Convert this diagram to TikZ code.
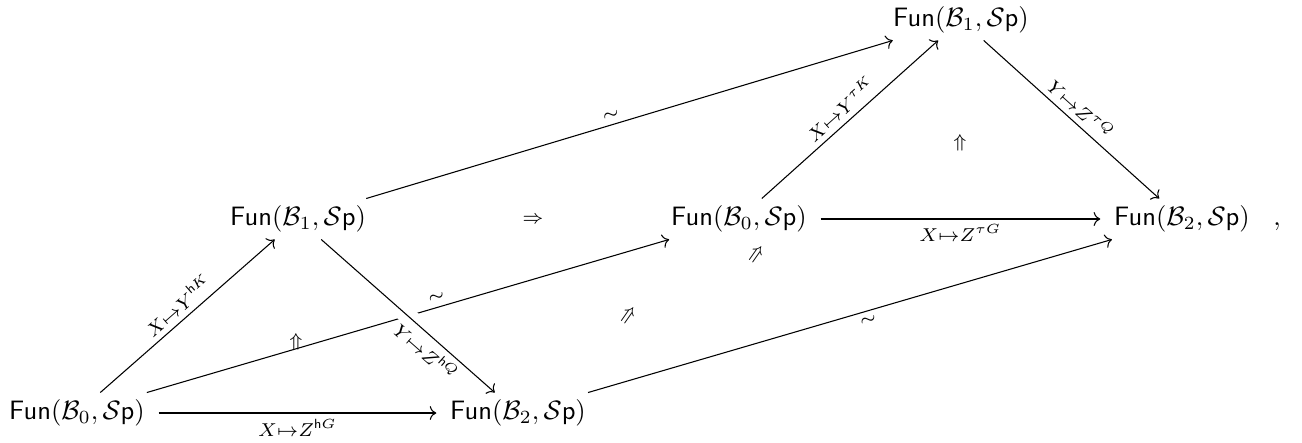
\documentclass[tikz,border=0pt]{standalone}
\usepackage{amsmath,amssymb}
\usepackage{tikz}
\usetikzlibrary{positioning,arrows.meta}

\begin{document}
\begin{tikzpicture}[
  fun/.style={inner xsep=5pt,inner ysep=2.5pt},
  arrow/.style={-{Computer Modern Rightarrow},thin},
  lbl/.style={inner sep=2pt},
  cell/.style={inner sep=0pt},
  crossing/.style={preaction={draw=white,line width=6.5pt,-}}
]
\useasboundingbox (0,0) rectangle (17.2,5.839);
% the functor categories
\node[fun] (A) at (1.017,0.383) {$\mathsf{Fun}(\mathcal{B}_0,\mathcal{S}\mathsf{p})$};
\node[fun] (B) at (6.843,0.383) {$\mathsf{Fun}(\mathcal{B}_2,\mathcal{S}\mathsf{p})$};
\node[fun] (C) at (3.937,2.946) {$\mathsf{Fun}(\mathcal{B}_1,\mathcal{S}\mathsf{p})$};
\node[fun] (D) at (9.762,2.946) {$\mathsf{Fun}(\mathcal{B}_0,\mathcal{S}\mathsf{p})$};
\node[fun] (E) at (15.614,2.946) {$\mathsf{Fun}(\mathcal{B}_2,\mathcal{S}\mathsf{p})$};
\node[fun] (F) at (12.695,5.575) {$\mathsf{Fun}(\mathcal{B}_1,\mathcal{S}\mathsf{p})$};
\node[anchor=base west,inner sep=0pt,xshift=3.5pt] (comma) at (E.base east) {$,$};
% 2-cells
\node[cell] (mid) at (7.041,2.933) {$\scriptstyle\Rightarrow$};
\node[cell] (twoL) at (3.910,1.321) {$\scriptstyle\Uparrow$};
\node[cell] (twoR) at (12.68,3.950) {$\scriptstyle\Uparrow$};
\node[cell,rotate=55] (twoD) at (10.0,2.470) {$\scriptstyle\Rightarrow$};
\node[cell,rotate=55] (twoB) at (8.309,1.664) {$\scriptstyle\Rightarrow$};
% lower triangle
\draw[arrow] (A) -- (D) node[lbl,pos=0.56,above,sloped] {$\scriptstyle\sim$};
\draw[arrow] (A) -- (C) node[lbl,midway,above,sloped] {$\scriptstyle X\mapsto Y^{\mathsf{h}K}$};
\draw[arrow] (A) -- (B) node[lbl,midway,below] {$\scriptstyle X\mapsto Z^{\mathsf{h}G}$};
\draw[arrow,crossing] (C) -- (B) node[lbl,pos=0.66,below,sloped] {$\scriptstyle Y\mapsto Z^{\mathsf{h}Q}$};
% comparison maps
\draw[arrow] (C) -- (F) node[lbl,pos=0.47,above,sloped] {$\scriptstyle\sim$};
\draw[arrow] (B) -- (E) node[lbl,pos=0.53,below,sloped] {$\scriptstyle\sim$};
% upper triangle
\draw[arrow] (D) -- (F) node[lbl,midway,above,sloped] {$\scriptstyle X\mapsto Y^{\tau K}$};
\draw[arrow] (F) -- (E) node[lbl,midway,above,sloped] {$\scriptstyle Y\mapsto Z^{\tau Q}$};
\draw[arrow] (D) -- (E) node[lbl,midway,below] {$\scriptstyle X\mapsto Z^{\tau G}$};
\end{tikzpicture}
\end{document}
